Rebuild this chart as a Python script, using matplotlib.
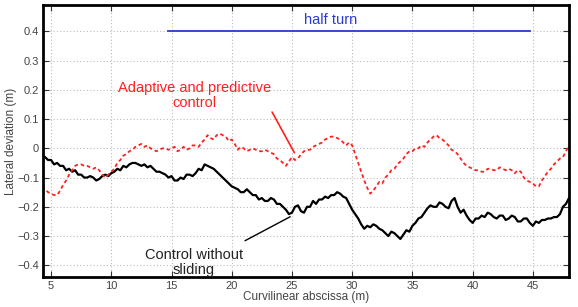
import matplotlib
matplotlib.use('Agg')
import matplotlib.pyplot as plt
import numpy as np

plt.rcParams['font.family'] = ['Liberation Sans', 'DejaVu Sans']

# Curvilinear abscissa samples (m)
abscissa = np.arange(4.0, 48.01, 0.25)

# Lateral deviation, control without sliding (m)
no_sliding = [
    -0.01, -0.025, -0.03, -0.04,
    -0.04, -0.055, -0.05, -0.06,
    -0.06, -0.075, -0.07, -0.08,
    -0.075, -0.09, -0.09, -0.10,
    -0.10, -0.095, -0.10, -0.11,
    -0.105, -0.095, -0.09, -0.095,
    -0.085, -0.08, -0.07, -0.075,
    -0.06, -0.065, -0.055, -0.05,
    -0.05, -0.055, -0.06, -0.055,
    -0.065, -0.06, -0.07, -0.08,
    -0.08, -0.085, -0.09, -0.10,
    -0.095, -0.11, -0.11, -0.10,
    -0.105, -0.09, -0.09, -0.095,
    -0.085, -0.07, -0.075, -0.055,
    -0.06, -0.065, -0.07, -0.08,
    -0.09, -0.10, -0.11, -0.12,
    -0.13, -0.135, -0.14, -0.15,
    -0.15, -0.14, -0.15, -0.16,
    -0.16, -0.175, -0.17, -0.18,
    -0.18, -0.17, -0.175, -0.19,
    -0.19, -0.20, -0.21, -0.225,
    -0.22, -0.20, -0.195, -0.215,
    -0.22, -0.20, -0.20, -0.18,
    -0.19, -0.175, -0.175, -0.165,
    -0.17, -0.16, -0.16, -0.15,
    -0.155, -0.165, -0.17, -0.19,
    -0.21, -0.225, -0.24, -0.26,
    -0.275, -0.265, -0.27, -0.26,
    -0.265, -0.275, -0.28, -0.29,
    -0.30, -0.285, -0.29, -0.30,
    -0.31, -0.295, -0.28, -0.285,
    -0.265, -0.255, -0.24, -0.235,
    -0.22, -0.205, -0.195, -0.20,
    -0.20, -0.185, -0.19, -0.20,
    -0.205, -0.18, -0.17, -0.20,
    -0.22, -0.21, -0.23, -0.245,
    -0.255, -0.24, -0.24, -0.23,
    -0.235, -0.22, -0.225, -0.235,
    -0.24, -0.23, -0.23, -0.245,
    -0.24, -0.23, -0.235, -0.25,
    -0.25, -0.24, -0.24, -0.255,
    -0.265, -0.25, -0.255, -0.245,
    -0.245, -0.24, -0.24, -0.235,
    -0.235, -0.225, -0.20, -0.19,
    -0.17]

# Lateral deviation, adaptive and predictive control (m)
adaptive = [
    -0.11, -0.13, -0.14, -0.15,
    -0.155, -0.16, -0.16, -0.145,
    -0.125, -0.11, -0.09, -0.075,
    -0.06, -0.055, -0.055, -0.06,
    -0.06, -0.065, -0.07, -0.065,
    -0.075, -0.09, -0.10, -0.09,
    -0.08, -0.07, -0.05, -0.04,
    -0.025, -0.02, -0.01, -0.005,
    0.005, 0.01, 0.015, 0.005,
    0.01, 0.0, -0.005, -0.01,
    -0.005, 0.0, 0.0, -0.005,
    0.0, 0.005, -0.01, -0.005,
    0.005, -0.005, 0.0, 0.01,
    0.01, 0.005, 0.02, 0.03,
    0.045, 0.035, 0.03, 0.045,
    0.05, 0.045, 0.04, 0.025,
    0.03, 0.015, -0.005, 0.005,
    0.0, -0.01, -0.005, 0.0,
    -0.005, -0.01, -0.01, -0.005,
    -0.01, -0.015, -0.02, -0.035,
    -0.04, -0.05, -0.06, -0.045,
    -0.03, -0.04, -0.035, -0.02,
    -0.01, -0.005, -0.005, 0.005,
    0.01, 0.015, 0.02, 0.03,
    0.035, 0.04, 0.04, 0.035,
    0.03, 0.02, 0.01, 0.02,
    0.01, -0.02, -0.05, -0.08,
    -0.11, -0.135, -0.155, -0.145,
    -0.13, -0.115, -0.12, -0.10,
    -0.09, -0.075, -0.07, -0.055,
    -0.045, -0.035, -0.02, -0.01,
    -0.01, 0.0, 0.0, 0.01,
    0.005, 0.02, 0.03, 0.04,
    0.045, 0.035, 0.03, 0.02,
    0.01, -0.005, -0.01, -0.02,
    -0.035, -0.05, -0.06, -0.065,
    -0.07, -0.075, -0.075, -0.08,
    -0.08, -0.07, -0.07, -0.075,
    -0.075, -0.065, -0.07, -0.075,
    -0.07, -0.075, -0.085, -0.075,
    -0.08, -0.10, -0.11, -0.115,
    -0.12, -0.13, -0.13, -0.11,
    -0.095, -0.08, -0.07, -0.055,
    -0.045, -0.035, -0.03, -0.01,
    0.01]

half_turn_x = [14.7, 44.8]
half_turn_y = [0.4, 0.4]

red = '#ff2020'
blue = '#2a3ad6'

fig = plt.figure(figsize=(5.78, 3.07), dpi=100)
ax = fig.add_axes([0.0744, 0.0977, 0.91, 0.886])

ax.plot(abscissa, no_sliding, color='black', linewidth=1.6)
ax.plot(abscissa, adaptive, color=red, linewidth=1.3, linestyle=(0, (2, 1.6)))
ax.plot(half_turn_x, half_turn_y, color=blue, linewidth=1.3)

ax.text(28.2, 0.44, 'half turn', color=blue, fontsize=10.5, ha='center', va='center')

ax.text(16.9, 0.182, 'Adaptive and predictive\ncontrol', color=red, fontsize=10.5,
        ha='center', va='center', linespacing=1.1)
ax.annotate('', xy=(25.2, -0.015), xytext=(23.35, 0.124),
            arrowprops=dict(arrowstyle='-', color=red, lw=1.2, shrinkA=0, shrinkB=0))

ax.text(16.85, -0.39, 'Control without\nsliding', color='#222222', fontsize=10.5,
        ha='center', va='center', linespacing=1.1)
ax.annotate('', xy=(24.85, -0.234), xytext=(21.1, -0.316),
            arrowprops=dict(arrowstyle='-', color='black', lw=1.0, shrinkA=0, shrinkB=0))

ax.set_xlim(4.33, 48)
ax.set_ylim(-0.44, 0.49)
ax.set_xticks([5, 10, 15, 20, 25, 30, 35, 40, 45])
ax.set_yticks([-0.4, -0.3, -0.2, -0.1, 0, 0.1, 0.2, 0.3, 0.4])
ax.set_yticklabels(['\u22120.4', '\u22120.3', '\u22120.2', '\u22120.1', '0', '0.1', '0.2', '0.3', '0.4'])
ax.tick_params(direction='in', top=True, right=True, length=4, labelsize=8,
               colors='#333333', labelcolor='#444444', pad=3)
ax.grid(True, linestyle=(0, (1, 2)), color='#bbbbbb', linewidth=0.8)
for s in ax.spines.values():
    s.set_linewidth(2)
ax.set_xlabel('Curvilinear abscissa (m)', fontsize=8.5, color='#444444', labelpad=0)
ax.set_ylabel('Lateral deviation (m)', fontsize=8.5, color='#444444', labelpad=0)

fig.savefig('out.png', dpi=100)
